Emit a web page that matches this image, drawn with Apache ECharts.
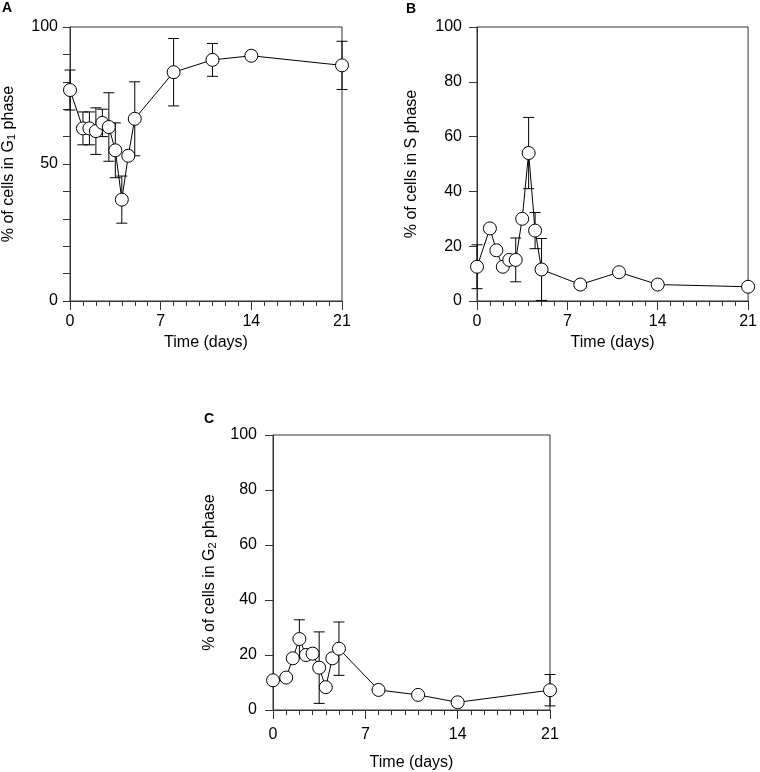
<!DOCTYPE html>
<html>
<head>
<meta charset="utf-8">
<script src="https://cdn.jsdelivr.net/npm/echarts@6/dist/echarts.min.js"></script>
<style>html,body{margin:0;padding:0;background:#fff}#c{width:760px;height:772px}</style>
</head>
<body>
<div id="c"></div>
<script>
var days = [0, 1, 1.5, 2, 2.5, 3, 3.5, 4, 4.5, 5, 8, 11, 14, 21];
var g1Values = [77, 63, 63, 62, 65, 63.5, 55, 37, 53, 66.5, 83.5, 88, 89.5, 86];
var g1Errors = [7.3, 6, 6, 8.5, 5, 12.5, 10, 8.6, 0, 13.5, 12.3, 6, 0, 8.8];
var sValues = [12.5, 26.5, 18.5, 12.5, 15, 15, 30, 54, 25.7, 11.5, 6, 10.5, 6, 5.2];
var sErrors = [8, 0, 0, 0, 0, 8, 0, 13, 6.6, 11.3, 0, 0, 0, 0];
var g2Values = [10.8, 11.8, 18.8, 25.8, 20, 20.5, 15.4, 8.3, 18.8, 22.3, 7.3, 5.5, 2.8, 7.2];
var g2Errors = [0, 0, 0, 7, 0, 0, 13, 0, 0, 9.7, 0, 0, 0, 5.7];
var xTicks = [0, 7, 14, 21];
var panelLetters = ['A', 'B', 'C'];
var xTitle = 'Time (days)';
var yTitles = ['% of cells in G{sub|1} phase', '% of cells in S phase', '% of cells in G{sub|2} phase'];

var FONT = 'Liberation Sans, Arial, sans-serif';
var AX = '#333';
var FS = 16;

function pairs(v) { return days.map(function (d, i) { return [d, v[i]]; }); }
function triples(v, e) {
  var out = [];
  days.forEach(function (d, i) { if (e[i] > 0) out.push([d, v[i], e[i]]); });
  return out;
}
function errRender(params, api) {
  var x = api.value(0), y = api.value(1), e = api.value(2);
  var top = api.coord([x, y + e]), bot = api.coord([x, y - e]);
  var hw = 5.5;
  var st = { stroke: '#000', lineWidth: 1 };
  return {
    type: 'group',
    children: [
      { type: 'line', shape: { x1: top[0], y1: top[1], x2: bot[0], y2: bot[1] }, style: st },
      { type: 'line', shape: { x1: top[0] - hw, y1: top[1], x2: top[0] + hw, y2: top[1] }, style: st },
      { type: 'line', shape: { x1: bot[0] - hw, y1: bot[1], x2: bot[0] + hw, y2: bot[1] }, style: st }
    ]
  };
}

var grids = [
  { left: 67, top: 27, width: 275, height: 274 },
  { left: 477, top: 27, width: 275, height: 274 },
  { left: 273, top: 435, width: 277, height: 275 }
].map(function (g) {
  return Object.assign({ show: true, borderColor: AX, borderWidth: 1, backgroundColor: 'transparent' }, g);
});

var xLabelMargin = [13, 13, 17];
var xNameGap = [34, 34, 45];
var yNameGap = [53, 57, 55];
var yLabelMargin = [12, 15, 16];

var xAxes = grids.map(function (g, i) {
  return {
    type: 'value', gridIndex: i, min: 0, max: 21, interval: 7,
    name: xTitle, nameLocation: 'middle', nameGap: xNameGap[i],
    nameTextStyle: { fontFamily: FONT, fontSize: FS, color: '#000' },
    axisLine: { show: true, lineStyle: { color: AX, width: 1 } },
    axisTick: { show: true, length: 9, lineStyle: { color: AX } },
    minorTick: { show: true, splitNumber: 7, length: 5, lineStyle: { color: AX } },
    axisLabel: { fontFamily: FONT, fontSize: FS, color: '#000', margin: xLabelMargin[i],
      customValues: xTicks },
    splitLine: { show: false }, minorSplitLine: { show: false }
  };
});

var yAxes = grids.map(function (g, i) {
  var isA = i === 0;
  return {
    type: 'value', gridIndex: i, min: 0, max: 100, interval: isA ? 50 : 20,
    name: yTitles[i], nameLocation: 'middle', nameGap: yNameGap[i], nameRotate: 90,
    nameTextStyle: { fontFamily: FONT, fontSize: FS, color: '#000',
      rich: { sub: { fontFamily: FONT, fontSize: 11, color: '#000', padding: [0, 0, -6, 0] } } },
    axisLine: { show: true, lineStyle: { color: AX, width: 1 } },
    axisTick: { show: true, length: isA ? 7 : 8, lineStyle: { color: AX } },
    minorTick: { show: isA, splitNumber: 5, length: 7, lineStyle: { color: AX } },
    axisLabel: { fontFamily: FONT, fontSize: FS, color: '#000', margin: yLabelMargin[i] },
    splitLine: { show: false }, minorSplitLine: { show: false }
  };
});

var vals = [g1Values, sValues, g2Values];
var errs = [g1Errors, sErrors, g2Errors];
var series = [];
vals.forEach(function (v, i) {
  series.push({
    type: 'custom', xAxisIndex: i, yAxisIndex: i, renderItem: errRender,
    data: triples(v, errs[i]), z: 1, clip: false, silent: true
  });
  series.push({
    type: 'line', xAxisIndex: i, yAxisIndex: i, data: pairs(v), z: 3, clip: false,
    symbol: 'circle', symbolSize: 13, showAllSymbol: true,
    lineStyle: { color: '#000', width: 1 },
    itemStyle: { color: '#fff', borderColor: '#000', borderWidth: 1 },
    animation: false
  });
});

var letterPos = [[2, 1], [406, 2], [204, 412]];
var graphics = panelLetters.map(function (t, i) {
  return { type: 'text', left: letterPos[i][0], top: letterPos[i][1],
    style: { text: t, fontFamily: FONT, fontSize: 14, fontWeight: 'bold', fill: '#000' } };
});

var chart = echarts.init(document.getElementById('c'), null, { renderer: 'canvas' });
chart.setOption({
  backgroundColor: '#fff',
  animation: false,
  grid: grids,
  xAxis: xAxes,
  yAxis: yAxes,
  series: series,
  graphic: graphics
});
</script>
</body>
</html>
